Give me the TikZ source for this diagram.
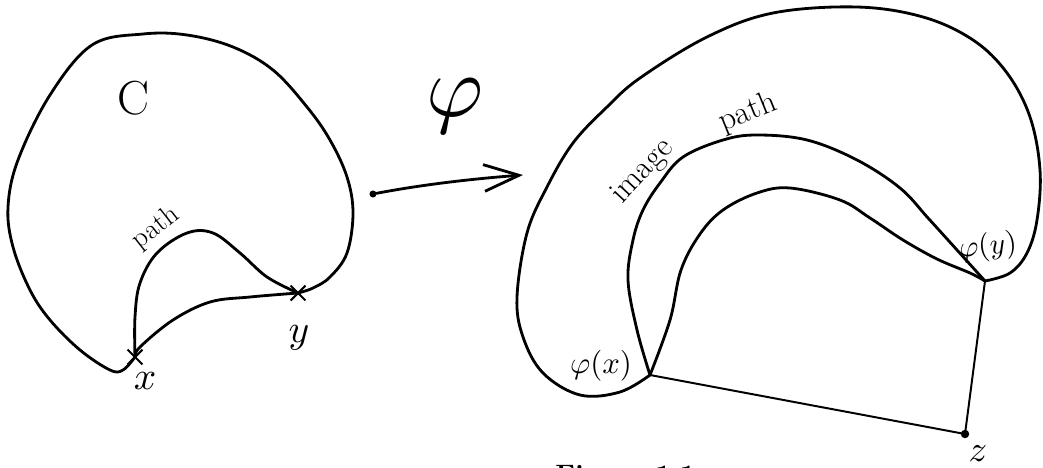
\documentclass[tikz,border=0pt]{standalone}
\usetikzlibrary{shapes.misc,arrows.meta}
\begin{document}
\begin{tikzpicture}[x=0.025cm,y=-0.025cm,
  curve/.style={line width=2pt,line join=round,line cap=round},
  thinline/.style={line width=1.4pt,line cap=round},
  xmark/.style={cross out,draw,line width=1.5pt,minimum size=9pt,inner sep=0pt},
  dotmark/.style={circle,fill,inner sep=0pt,minimum size=5pt},
  hand/.style={inner sep=0pt,font=\fontsize{20}{22}\selectfont},
  mathlbl/.style={inner sep=0pt,font=\normalsize}]
\useasboundingbox (0,0) rectangle (1043,467);
% ---------- left region C ----------
\node[xmark] (x) at (135,357) {};
\node[xmark] (y) at (298,293) {};
\draw[curve] plot[smooth,tension=0.6] coordinates {(x.center) (123,370) (110,370) (80,350) (50,320) (30,290) (13,247) (8,207) (18,160) (50,95) (92,45) (143,34) (187,35) (233,47) (273,70) (307,107) (330,140) (347,177) (353,213) (347,253) (330,277) (313,288) (y.center)};
\draw[curve] plot[smooth,tension=0.6] coordinates {(x.center) (140,347) (173,320) (210,302) (250,297) (y.center)};
\draw[curve] plot[smooth,tension=0.6] coordinates {(x.center) (135,317) (140,283) (157,253) (187,233) (213,233) (240,253) (267,277) (y.center)};
\node[hand,font=\fontsize{34}{38}\selectfont] (C) at (133,98) {C};
\node[hand,rotate=38] (pathL) at (156,228) {path};
\node[mathlbl,scale=2.8] (xl) at (145,381) {$x$};
\node[mathlbl,scale=2.8] (yl) at (299,338) {$y$};
% ---------- arrow phi ----------
\node[dotmark] (a0) at (373,194) {};
\coordinate (a1) at (523,175);
\draw[curve,-{Straight Barb[length=25pt,width=19pt,line width=2pt]}] (a0) .. controls (420,185) and (470,179) .. (a1);
\node[mathlbl,scale=6.2] (phi) at (455,106) {$\varphi$};
% ---------- right region ----------
\coordinate (px) at (650,375);
\coordinate (py) at (985,281);
\node[dotmark,minimum size=6pt] (z) at (965,434) {};
\draw[curve] plot[smooth,tension=0.6] coordinates {(px) (620,392) (580,395) (543,373) (523,337) (517,297) (527,233) (547,187) (573,143) (607,107) (640,78) (707,37) (773,13) (857,7) (923,17) (973,40) (1007,73) (1030,117) (1040,170) (1037,220) (1027,253) (1010,273) (py)};
\draw[curve] plot[smooth,tension=0.6] coordinates {(px) (637,330) (628,280) (633,240) (643,210) (660,183) (683,157) (723,140) (757,135) (807,140) (857,160) (900,188) (928,218) (957,250) (py)};
\draw[curve] plot[smooth,tension=0.6] coordinates {(px) (670,320) (681,270) (700,234) (723,210) (757,193) (790,188) (840,200) (870,218) (903,240) (937,259) (970,273) (py)};
\draw[thinline] (px) -- (z.center);
\draw[thinline] (py) -- (z.center);
\node[hand,font=\fontsize{23}{25}\selectfont,rotate=47] (imgl) at (643,172) {image};
\node[hand,font=\fontsize{23}{25}\selectfont,rotate=22] (pathR) at (748,113) {path};
\node[mathlbl,scale=2.2] (phixl) at (601,366) {$\varphi(x)$};
\node[mathlbl,scale=2.1,rotate=6] (phiyl) at (988,247) {$\varphi(y)$};
\node[mathlbl,scale=2.6] (zl) at (978,454) {$z$};
% ---------- caption (cut off by the page) ----------
\node[anchor=north west,inner sep=0pt,font=\bfseries\fontsize{20}{22}\selectfont] (cap) at (555,465) {Figure 1.1};
\end{tikzpicture}
\end{document}
